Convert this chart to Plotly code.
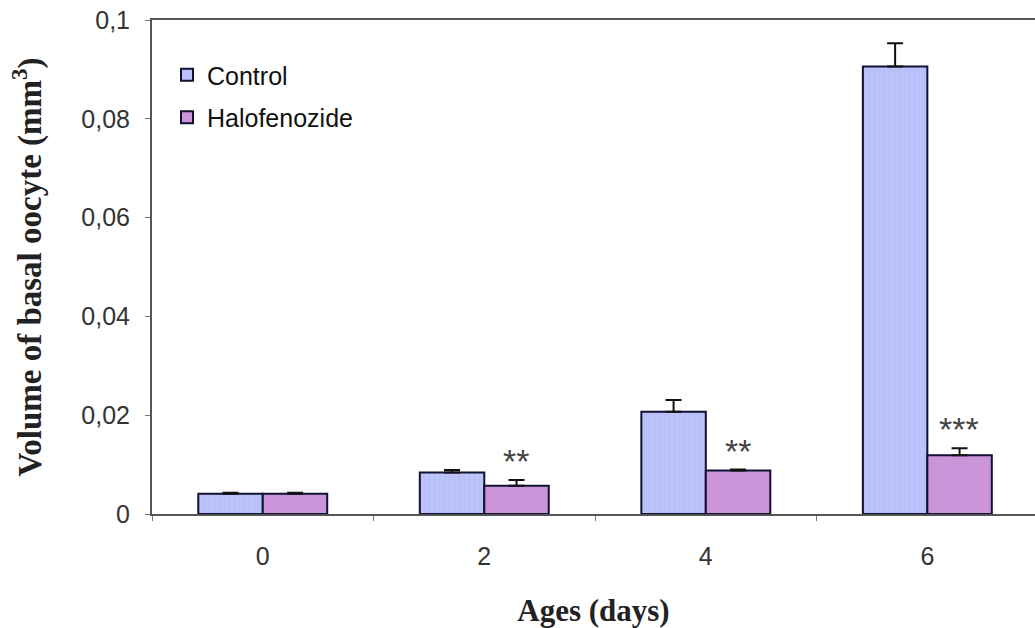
import plotly.graph_objects as go

ages = ["0", "2", "4", "6"]
control = [0.0041, 0.0084, 0.0207, 0.0906]
control_err = [0.0002, 0.0005, 0.0024, 0.0047]
halo = [0.0041, 0.0057, 0.0088, 0.0119]
halo_err = [0.0002, 0.0012, 0.0002, 0.0014]
signif = ["", "**", "**", "***"]
yticks = [0, 0.02, 0.04, 0.06, 0.08, 0.1]
ytick_text = ["0", "0,02", "0,04", "0,06", "0,08", "0,1"]

sans = "Arial, Liberation Sans, sans-serif"
serif = "Times New Roman, Liberation Serif, serif"

fig = go.Figure()
fig.add_trace(go.Bar(
    x=ages, y=control, name="Control", legendgroup="c",
    marker=dict(color="#bcc2fa", line=dict(color="#111133", width=2),
                pattern=dict(shape="|", size=5, solidity=0.15, fgcolor="#a9aff0", fgopacity=0.4)),
    error_y=dict(type="data", array=control_err, arrayminus=[0] * 4, symmetric=False,
                 color="#111", thickness=2, width=8),
))
fig.add_trace(go.Bar(
    x=ages, y=halo, name="Halofenozide", legendgroup="h",
    marker=dict(color="#cc94d8", line=dict(color="#111133", width=2)),
    error_y=dict(type="data", array=halo_err, arrayminus=[0] * 4, symmetric=False,
                 color="#111", thickness=2, width=8),
))

for i, (v, e, s) in enumerate(zip(halo, halo_err, signif)):
    if s:
        fig.add_annotation(x=i, y=v + e, text=s, showarrow=False, xshift=32, yshift=-2,
                           yanchor="bottom", font=dict(family=sans, size=34, color="#444"))

fig.update_layout(
    width=1035, height=628,
    margin=dict(l=152, r=0, t=20, b=114),
    paper_bgcolor="white", plot_bgcolor="white",
    barmode="group", bargap=0.418, bargroupgap=0,
    showlegend=True,
    legend=dict(x=0.017, y=0.935, xanchor="left", yanchor="top", traceorder="grouped",
                tracegroupgap=7, font=dict(family=sans, size=25, color="#111"),
                bgcolor="rgba(0,0,0,0)"),
    xaxis=dict(range=[-0.5, 3.486], showline=True, linecolor="#555", linewidth=2, mirror=True,
               ticks="outside", tickson="boundaries", ticklen=5, tickcolor="#777",
               tickfont=dict(family=sans, size=25, color="#333"), ticklabelstandoff=19,
               title=dict(text="<b>Ages (days)</b>", font=dict(family=serif, size=31, color="#222"),
                          standoff=30),
               showgrid=False, zeroline=False, automargin=False),
    yaxis=dict(range=[0, 0.1], tickvals=yticks, ticktext=ytick_text, showline=True,
               linecolor="#555", linewidth=2, ticks="outside", ticklen=5, tickcolor="#777",
               tickfont=dict(family=sans, size=25, color="#333"), ticklabelstandoff=10,
               title=dict(text="<b>Volume of basal oocyte (mm<sup>3</sup>)</b>",
                          font=dict(family=serif, size=33, color="#222"), standoff=30),
               showgrid=False, zeroline=False, automargin=False),
)

fig.write_html("out.html")
